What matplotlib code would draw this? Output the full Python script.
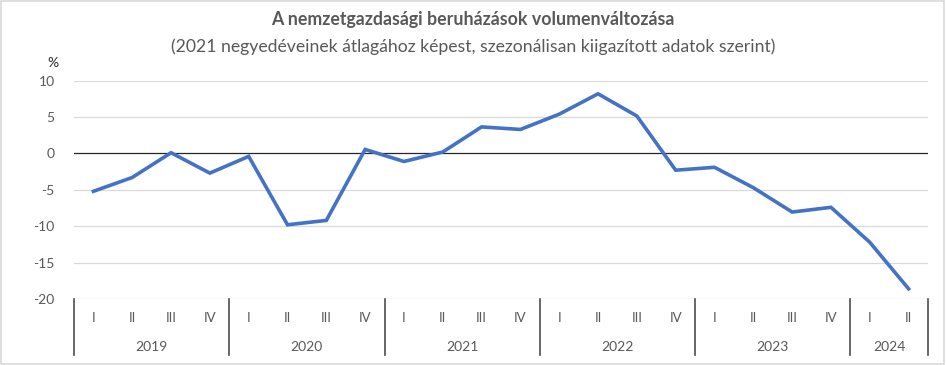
import matplotlib
matplotlib.use('Agg')
import matplotlib.pyplot as plt
from matplotlib.patches import Rectangle

plt.rcParams['font.family'] = ['Lato', 'DejaVu Sans']

years = ['2019', '2020', '2021', '2022', '2023', '2024']
quarters_per_year = [4, 4, 4, 4, 4, 2]
quarter_names = ['I', 'II', 'III', 'IV']
values = [-5.2, -3.3, 0.1, -2.7,
          -0.4, -9.8, -9.2, 0.55,
          -1.1, 0.2, 3.65, 3.3,
          5.4, 8.2, 5.15, -2.3,
          -1.9, -4.7, -8.05, -7.4,
          -12.2, -18.6]
yticks = [10, 5, 0, -5, -10, -15, -20]

text_grey = '#595959'
fig = plt.figure(figsize=(9.46, 3.65), dpi=100)
ax = fig.add_axes([74 / 946, 1 - 299 / 365, 854 / 946, 218.3 / 365])

x = list(range(len(values)))
ax.plot(x, values, color='#4472C4', lw=2.6, solid_joinstyle='miter', zorder=3)

ax.set_xlim(-0.5, len(values) - 0.5)
ax.set_ylim(-20, 10)
ax.set_yticks(yticks)
ax.set_yticklabels([str(t) for t in yticks])
for t in yticks:
    if t == 0:
        ax.axhline(t, color='#262626', lw=0.9, zorder=2)
    else:
        ax.axhline(t, color='#d9d9d9', lw=0.9, zorder=1)
for s in ax.spines.values():
    s.set_visible(False)
ax.tick_params(axis='y', length=0, labelsize=10, labelcolor=text_grey, pad=14)
ax.set_xticks([])

# category axis: quarters and years
trans = ax.get_xaxis_transform()
q_labels = []
for n in quarters_per_year:
    q_labels += quarter_names[:n]
for i, q in enumerate(q_labels):
    ax.text(i, -0.087, q, transform=trans, ha='center', va='center',
            fontsize=9.5, color=text_grey)
start = 0
bounds = [-0.5]
for y, n in zip(years, quarters_per_year):
    ax.text(start + (n - 1) / 2, -0.22, y, transform=trans, ha='center',
            va='center', fontsize=10, color=text_grey)
    start += n
    bounds.append(start - 0.5)
for b in bounds:
    ax.plot([b, b], [0, -0.2565], transform=trans, color='#4d4d4d', lw=1.2,
            clip_on=False)

fig.text(53 / 946, 1 - 63 / 365, '%', ha='center', va='center', fontsize=10,
         color='#262626')
fig.text(0.5, 1 - 20 / 365, 'A nemzetgazdasági beruházások volumenváltozása',
         ha='center', va='center', fontsize=12.8, fontweight='bold', color=text_grey)
fig.text(0.5, 1 - 47 / 365,
         '(2021 negyedéveinek átlagához képest, szezonálisan kiigazított adatok szerint)',
         ha='center', va='center', fontsize=12.7, color=text_grey)

fig.patches.append(Rectangle((0.001, 0.002), 0.997, 0.995, transform=fig.transFigure,
                             fill=False, edgecolor='#d9d9d9', lw=1.2))

fig.savefig('out.png', dpi=100)
